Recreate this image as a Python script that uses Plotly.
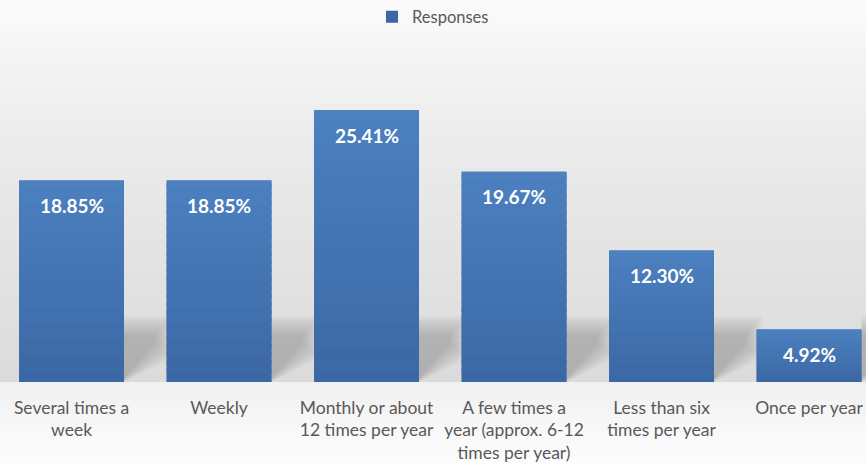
import plotly.graph_objects as go

categories = [
    "Several times a<br>week",
    "Weekly",
    "Monthly or about<br>12 times per year",
    "A few times a<br>year (approx. 6-12<br>times per year)",
    "Less than six<br>times per year",
    "Once per year",
]
responses = [18.85, 18.85, 25.41, 19.67, 12.30, 4.92]
labels = [f"{v:.2f}%" for v in responses]

BAR_BOTTOM = (59, 104, 164)
BAR_TOP = (76, 128, 192)
FONT = "Lato"
BAR_WIDTH = 0.71

W, H = 866, 465
M_TOP, M_BOT = 40, 83
PLOT_H = H - M_TOP - M_BOT

fig = go.Figure()
fig.add_trace(go.Bar(
    x=list(range(len(categories))),
    y=responses,
    name="Responses",
    width=BAR_WIDTH,
    marker=dict(color="rgb(%d,%d,%d)" % BAR_BOTTOM, line=dict(width=0)),
    showlegend=True,
    hoverinfo="skip",
))

# value labels just inside the top of each bar
for i, (v, t) in enumerate(zip(responses, labels)):
    fig.add_annotation(
        x=i, y=v, text=f"<b>{t}</b>", showarrow=False,
        yanchor="middle", yshift=-25,
        font=dict(family=FONT, size=19, color="white"),
    )


def px_to_paper(p):
    return (H - M_BOT - p) / PLOT_H


def interp(p, stops):
    for (p0, g0), (p1, g1) in zip(stops, stops[1:]):
        if p0 <= p <= p1:
            return g0 + (g1 - g0) * (p - p0) / (p1 - p0)
    return stops[-1][1]


shapes = []
# vertical background gradient: light at the top, greyer towards the baseline,
# then a pale band under the baseline
upper = [(0, 251), (130, 236), (382, 219)]
lower = [(382, 241), (465, 253)]
step = 6
for p in range(0, H, step):
    p_mid = p + step / 2
    g = round(interp(p_mid, upper) if p_mid < 382 else interp(p_mid, lower))
    y1 = px_to_paper(p)
    y0 = px_to_paper(min(p + step, 382) if p < 382 < p + step else p + step)
    shapes.append(dict(type="rect", xref="paper", yref="paper", x0=-0.01, x1=1.01,
                       y0=y0, y1=y1, fillcolor=f"rgb({g},{g},{g})",
                       line=dict(width=0), layer="below"))
    if p < 382 < p + step:
        g2 = round(interp(382 + 1, lower))
        shapes.append(dict(type="rect", xref="paper", yref="paper", x0=-0.01, x1=1.01,
                           y0=px_to_paper(p + step), y1=y0, fillcolor=f"rgb({g2},{g2},{g2})",
                           line=dict(width=0), layer="below"))

# soft cast shadow to the right of each bar's foot (many faint layers)
n_sh = 10
for i in range(len(categories)):
    xr = i + BAR_WIDTH / 2
    for k in range(n_sh):
        f = k / (n_sh - 1)
        dx = 0.33 - 0.12 * f
        top = 6.2 - 1.8 * f
        low = 2.2 + 1.4 * f
        path = (f"M {xr},{0.3 * f} L {xr},{top} L {xr + dx},{top} "
                f"L {xr + dx},{low} Z")
        shapes.append(dict(type="path", xref="x", yref="y", path=path,
                           fillcolor="rgba(0,0,0,0.02)", line=dict(width=0),
                           layer="below"))

# vertical shading on each bar: lighter at the top, deeper at the foot
n_gr = 24
for i, v in enumerate(responses):
    x0, x1 = i - BAR_WIDTH / 2, i + BAR_WIDTH / 2
    for k in range(n_gr):
        f = (k + 0.5) / n_gr
        c = tuple(round(BAR_BOTTOM[j] + (BAR_TOP[j] - BAR_BOTTOM[j]) * f) for j in range(3))
        y_hi = v * (k + 1) / n_gr if k == n_gr - 1 else v * (k + 1.6) / n_gr
        shapes.append(dict(type="rect", xref="x", yref="y", x0=x0, x1=x1,
                           y0=v * k / n_gr, y1=y_hi,
                           fillcolor="rgb(%d,%d,%d)" % c, line=dict(width=0),
                           layer="above"))

fig.update_layout(
    width=W, height=H,
    margin=dict(l=0, r=0, t=M_TOP, b=M_BOT),
    paper_bgcolor="white",
    plot_bgcolor="rgba(0,0,0,0)",
    shapes=shapes,
    font=dict(family=FONT, color="#595959"),
    legend=dict(orientation="h", x=0.5, xanchor="center",
                yref="container", y=1 - 17 / H, yanchor="middle",
                itemwidth=30,
                font=dict(family=FONT, size=16.5, color="#595959"),
                bgcolor="rgba(0,0,0,0)"),
    xaxis=dict(
        tickmode="array", tickvals=list(range(len(categories))), ticktext=categories,
        range=[-0.485, 5.386], showgrid=False, zeroline=False, showline=False,
        ticks="", ticklabelstandoff=13,
        tickfont=dict(family=FONT, size=17.5, color="#595959"),
        fixedrange=True,
    ),
    yaxis=dict(range=[0, PLOT_H / 10.69], visible=False, showgrid=False,
               zeroline=False, fixedrange=True),
)

fig.write_html("out.html")
